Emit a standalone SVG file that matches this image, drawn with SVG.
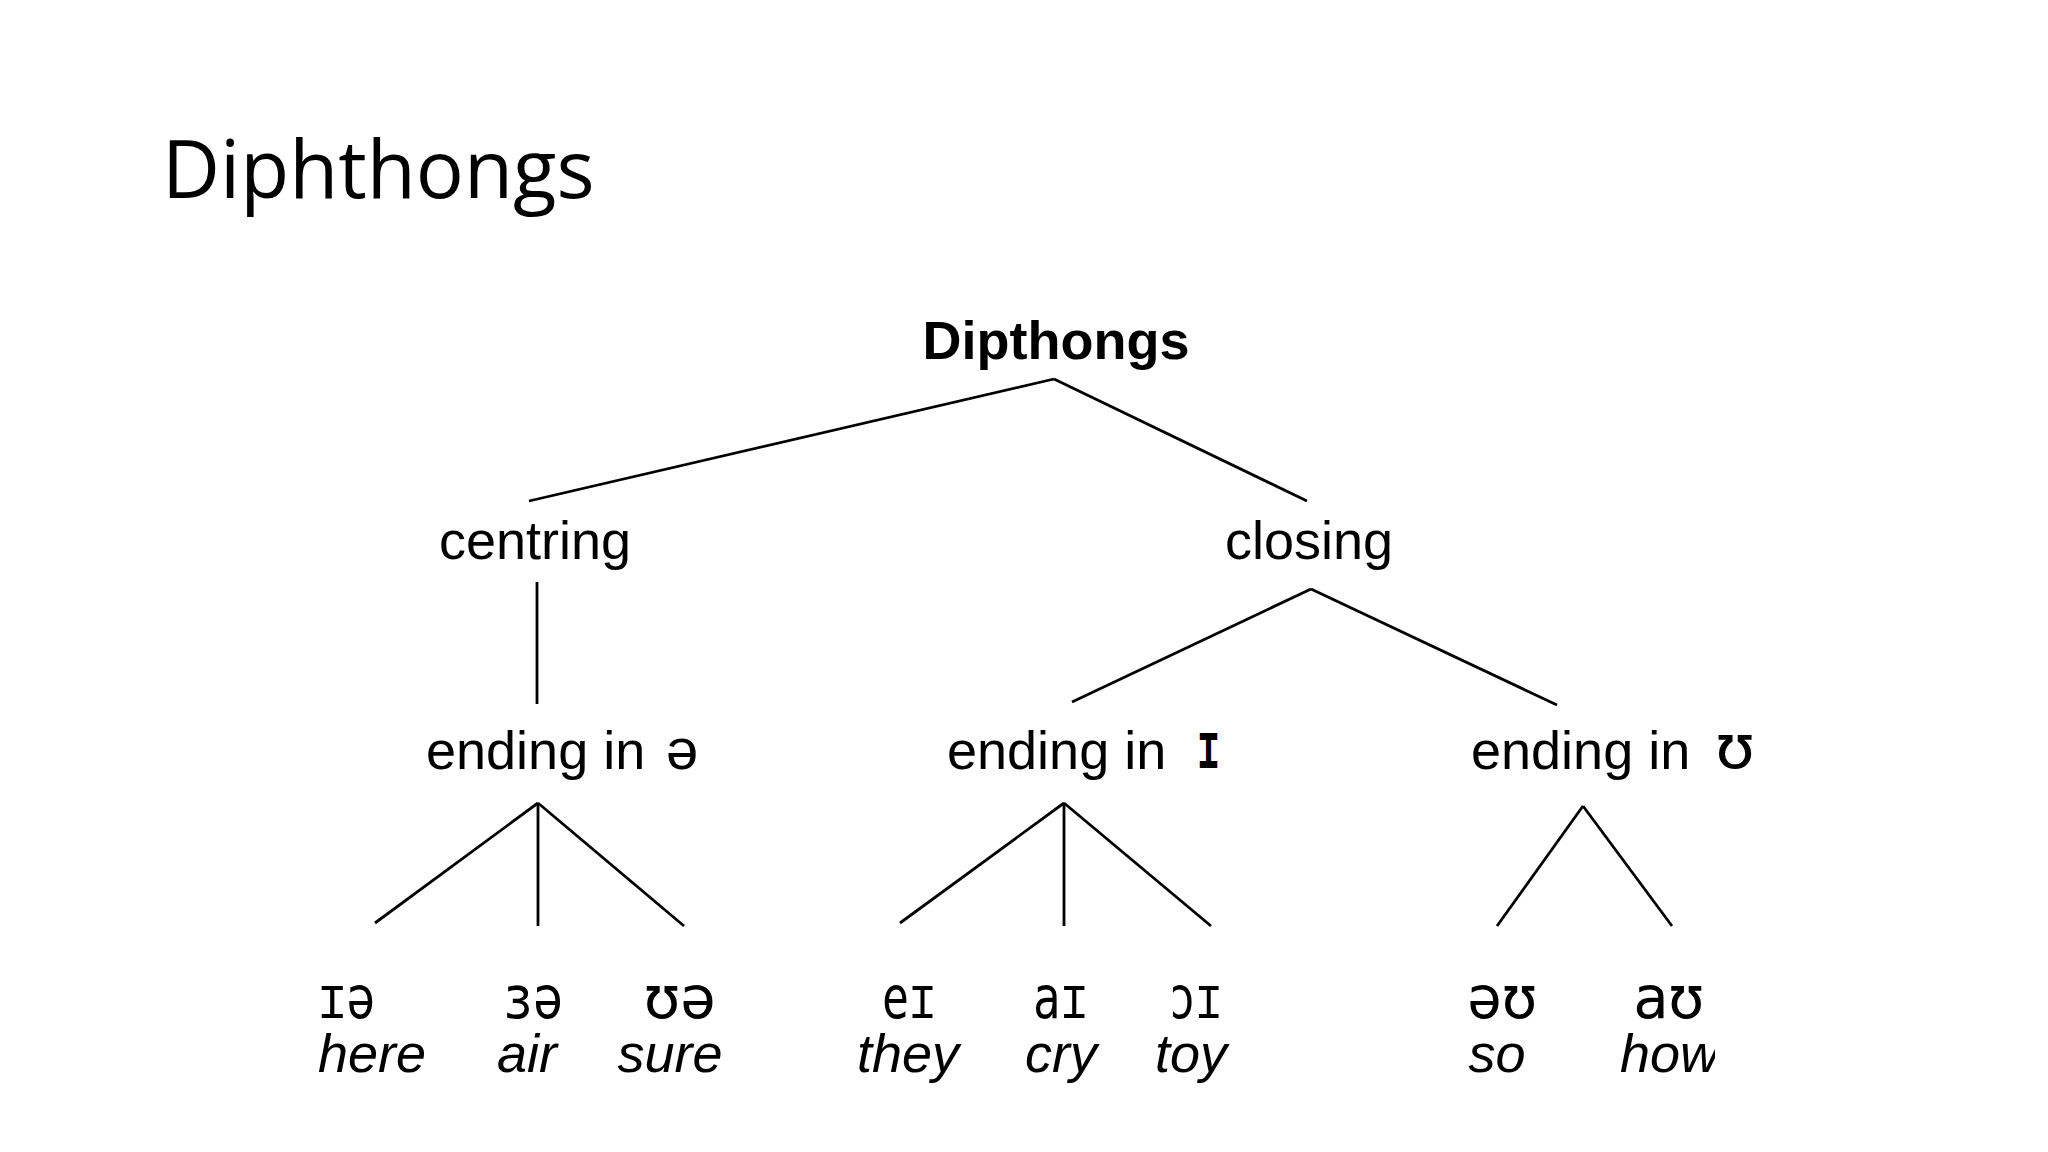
<svg xmlns="http://www.w3.org/2000/svg" width="2048" height="1152" viewBox="0 0 2048 1152">
<style>
.title{font-family:"Open Sans","Liberation Sans",sans-serif;font-size:80px;fill:#000}
.lbl{font-family:"Liberation Sans",Arial,sans-serif;font-size:54px;fill:#000}
.root{font-family:"Liberation Sans",Arial,sans-serif;font-size:54px;font-weight:bold;fill:#000}
.ipa{font-family:"DejaVu Sans Mono","DejaVu Sans",monospace;font-size:58px;fill:#000}
.ex{font-family:"Liberation Sans",Arial,sans-serif;font-size:54px;font-style:italic;fill:#000}
.edge{stroke:#000;stroke-width:2.8;fill:none}
</style>
<defs>
<clipPath id="clipHow"><rect x="1600" y="1020" width="115" height="80"/></clipPath>
</defs>
<rect width="2048" height="1152" fill="#fff"/>
<text class="title" x="162" y="198">Diphthongs</text>

<g id="connectors">
<line class="edge" x1="1054" y1="379" x2="529" y2="501"/>
<line class="edge" x1="1054" y1="379" x2="1307" y2="501"/>
<line class="edge" x1="537" y1="582" x2="537" y2="704"/>
<line class="edge" x1="1311" y1="589" x2="1072" y2="702"/>
<line class="edge" x1="1311" y1="589" x2="1557" y2="705"/>
<line class="edge" x1="538" y1="803" x2="375" y2="923"/>
<line class="edge" x1="538" y1="803" x2="538" y2="926"/>
<line class="edge" x1="538" y1="803" x2="684" y2="926"/>
<line class="edge" x1="1064" y1="803" x2="900" y2="923"/>
<line class="edge" x1="1064" y1="803" x2="1064" y2="926"/>
<line class="edge" x1="1064" y1="803" x2="1211" y2="926"/>
<line class="edge" x1="1583" y1="806" x2="1497" y2="926"/>
<line class="edge" x1="1583" y1="806" x2="1672" y2="926"/>
</g>

<g id="node-root"><text class="root" x="1056" y="359" text-anchor="middle">Dipthongs</text></g>
<g id="node-centring"><text class="lbl" x="535" y="559" text-anchor="middle">centring</text></g>
<g id="node-closing"><text class="lbl" x="1309" y="559" text-anchor="middle">closing</text></g>

<g id="node-ending-schwa"><text class="lbl" x="426" y="769">ending in <tspan x="666" font-size="58">ə</tspan></text></g>
<g id="node-ending-i"><text class="lbl" x="947" y="769">ending in <tspan x="1198" y="768" font-family="DejaVu Sans Mono, monospace" font-size="64" font-weight="bold" textLength="21" lengthAdjust="spacingAndGlyphs">ɪ</tspan></text></g>
<g id="node-ending-u"><text class="lbl" x="1471" y="769">ending in <tspan x="1715" y="768" font-family="DejaVu Sans, sans-serif" font-size="60" textLength="40" lengthAdjust="spacingAndGlyphs">ʊ</tspan></text></g>

<g id="node-ie"><text class="ipa" x="318" y="1018" textLength="57" lengthAdjust="spacingAndGlyphs">ɪə</text><text class="ex" x="372" y="1072" text-anchor="middle">here</text></g>
<g id="node-ea"><text class="ipa" x="503" y="1018" textLength="60" lengthAdjust="spacingAndGlyphs">ɜə</text><text class="ex" x="527" y="1072" text-anchor="middle">air</text></g>
<g id="node-ue"><text class="ipa" x="644" y="1018" textLength="72" lengthAdjust="spacingAndGlyphs">ʊə</text><text class="ex" x="670" y="1072" text-anchor="middle">sure</text></g>
<g id="node-ei"><text class="ipa" x="882" y="1018" textLength="54" lengthAdjust="spacingAndGlyphs">eɪ</text><text class="ex" x="908" y="1072" text-anchor="middle">they</text></g>
<g id="node-ai"><text class="ipa" x="1033" y="1018" textLength="55" lengthAdjust="spacingAndGlyphs">aɪ</text><text class="ex" x="1061" y="1072" text-anchor="middle">cry</text></g>
<g id="node-oi"><text class="ipa" x="1169" y="1018" textLength="53" lengthAdjust="spacingAndGlyphs">ɔɪ</text><text class="ex" x="1191" y="1072" text-anchor="middle">toy</text></g>
<g id="node-ou"><text class="ipa" x="1467" y="1018" textLength="70" lengthAdjust="spacingAndGlyphs">əʊ</text><text class="ex" x="1497" y="1072" text-anchor="middle">so</text></g>
<g id="node-au"><text class="ipa" x="1633" y="1018" textLength="71" lengthAdjust="spacingAndGlyphs">aʊ</text><text class="ex" x="1620" y="1072" clip-path="url(#clipHow)">how</text></g>
</svg>
